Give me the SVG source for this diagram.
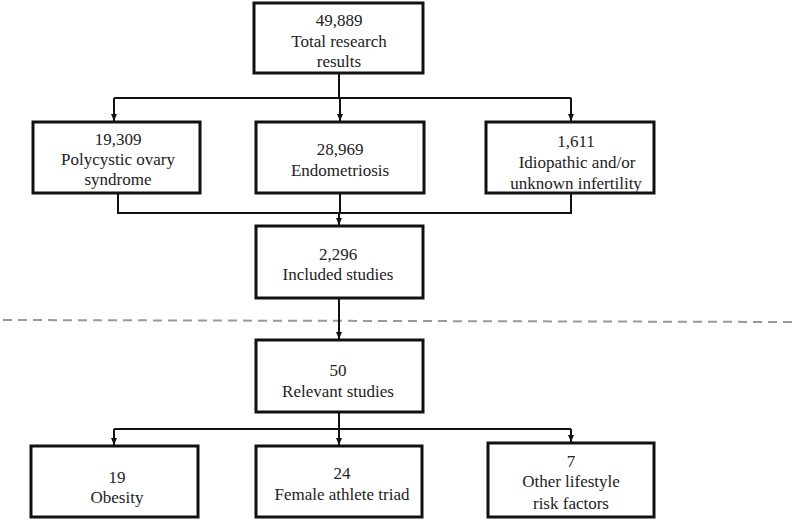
<svg xmlns="http://www.w3.org/2000/svg" width="794" height="520" viewBox="0 0 794 520">
<defs>
<style>
.box{fill:#fff;stroke:#111;stroke-width:3}
.t{font-size:17px;fill:#222;text-anchor:middle}
.c{fill:none;stroke:#111;stroke-width:2}
.dash{fill:none;stroke:#999;stroke-width:2;stroke-dasharray:9 6}
</style>
<marker id="ah" markerUnits="userSpaceOnUse" markerWidth="8" markerHeight="8" refX="7" refY="4" orient="auto">
<path d="M0,1 L7,4 L0,7 Z" fill="#111"/>
</marker>
</defs>
<rect width="794" height="520" fill="#fff"/>
<path class="dash" d="M3,320 L794,322"/>
<g id="connectors">
<path class="c" d="M339,73 V98"/>
<path class="c" d="M114,98 H571"/>
<path class="c" d="M114,98 V121" marker-end="url(#ah)"/>
<path class="c" d="M340,98 V121" marker-end="url(#ah)"/>
<path class="c" d="M571,98 V121" marker-end="url(#ah)"/>
<path class="c" d="M118,193 V213 H571 V193"/>
<path class="c" d="M340,193 V213"/>
<path class="c" d="M339,213 V225" marker-end="url(#ah)"/>
<path class="c" d="M339,298 V339" marker-end="url(#ah)"/>
<path class="c" d="M339,412 V429"/>
<path class="c" d="M114,429 H571"/>
<path class="c" d="M114,429 V445" marker-end="url(#ah)"/>
<path class="c" d="M339,429 V445" marker-end="url(#ah)"/>
<path class="c" d="M571,429 V442" marker-end="url(#ah)"/>
</g>
<g font-family="Liberation Serif, serif">
<g id="total">
<rect class="box" x="254" y="3" width="169" height="70"/>
<text class="t" x="339" y="26">49,889</text>
<text class="t" x="339" y="47">Total research</text>
<text class="t" x="339" y="67">results</text>
</g>
<g id="pcos">
<rect class="box" x="33" y="122" width="167" height="71"/>
<text class="t" x="118" y="145">19,309</text>
<text class="t" x="118" y="165">Polycystic ovary</text>
<text class="t" x="118" y="185">syndrome</text>
</g>
<g id="endo">
<rect class="box" x="256" y="122" width="168" height="71"/>
<text class="t" x="340" y="155">28,969</text>
<text class="t" x="340" y="176">Endometriosis</text>
</g>
<g id="idio">
<rect class="box" x="486" y="122" width="168" height="71"/>
<text class="t" x="576" y="147">1,611</text>
<text class="t" x="577" y="168">Idiopathic and/or</text>
<text class="t" x="576" y="189">unknown infertility</text>
</g>
<g id="included">
<rect class="box" x="256" y="226" width="167" height="72"/>
<text class="t" x="338" y="260">2,296</text>
<text class="t" x="338" y="280">Included studies</text>
</g>
<g id="relevant">
<rect class="box" x="256" y="340" width="167" height="72"/>
<text class="t" x="338" y="376">50</text>
<text class="t" x="338" y="397">Relevant studies</text>
</g>
<g id="obesity">
<rect class="box" x="31" y="446" width="167" height="71"/>
<text class="t" x="117" y="483">19</text>
<text class="t" x="117" y="503">Obesity</text>
</g>
<g id="triad">
<rect class="box" x="256" y="446" width="166" height="71"/>
<text class="t" x="342" y="479">24</text>
<text class="t" x="342" y="500">Female athlete triad</text>
</g>
<g id="lifestyle">
<rect class="box" x="488" y="443" width="166" height="74"/>
<text class="t" x="571" y="467">7</text>
<text class="t" x="571" y="487">Other lifestyle</text>
<text class="t" x="571" y="509">risk factors</text>
</g>
</g>
</svg>
